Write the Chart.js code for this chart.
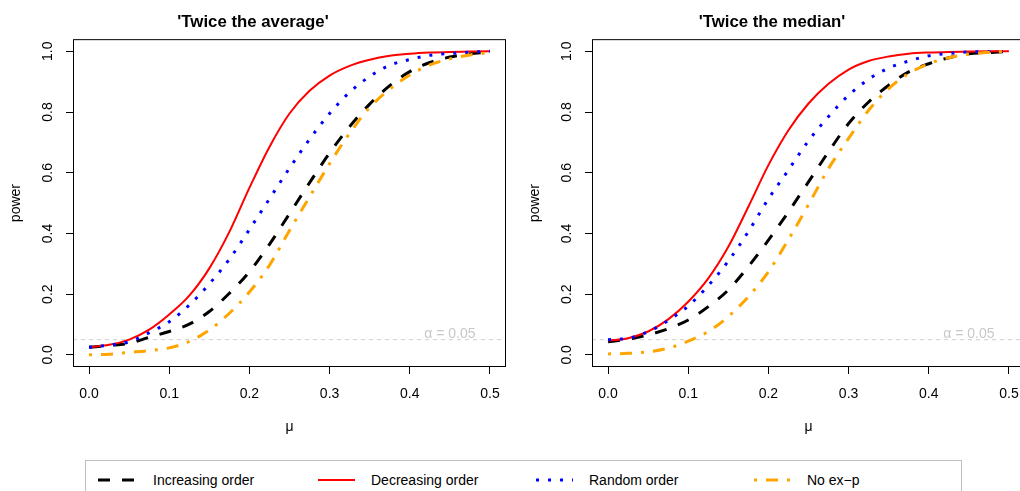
<!DOCTYPE html>
<html>
<head>
<meta charset="utf-8">
<script src="https://cdn.jsdelivr.net/npm/chart.js@4.4.1/dist/chart.umd.min.js"></script>
<style>
  html, body { margin: 0; padding: 0; background: #fff; overflow: hidden; width: 1020px; height: 491px; }
  body { position: relative; font-family: "Liberation Sans", Arial, sans-serif; }
  .chartBox { position: absolute; top: 0; }
  #legend { position: absolute; left: 85px; top: 460px; width: 877px; height: 45px; border: 1px solid #bebebe; box-sizing: border-box; }
  .lgItem { position: absolute; top: 471px; height: 18px; line-height: 18px; font-size: 14px; color: #000; white-space: nowrap; }
  .lgSample { position: absolute; top: 474px; }
</style>
</head>
<body>
<div class="chartBox" style="left:0px"><canvas id="avgChart" width="520" height="445"></canvas></div>
<div class="chartBox" style="left:519px"><canvas id="medChart" width="520" height="445"></canvas></div>
<div id="legend"></div>

<script>
// mu grid shared by all curves
const mu = [0, 0.025, 0.05, 0.075, 0.1, 0.125, 0.15, 0.175, 0.2, 0.225, 0.25,
            0.275, 0.3, 0.325, 0.35, 0.375, 0.4, 0.425, 0.45, 0.475, 0.5];

// 'Twice the average'
const avgIncreasing = [0.025, 0.031, 0.038, 0.058, 0.077, 0.101, 0.143, 0.203, 0.274, 0.364, 0.465,
                       0.567, 0.665, 0.752, 0.826, 0.887, 0.933, 0.963, 0.981, 0.992, 0.997];
const avgDecreasing = [0.025, 0.033, 0.05, 0.083, 0.133, 0.195, 0.285, 0.405, 0.55, 0.685, 0.795,
                       0.87, 0.92, 0.952, 0.972, 0.985, 0.992, 0.996, 0.998, 0.999, 1.0];
const avgRandom     = [0.025, 0.032, 0.043, 0.073, 0.109, 0.164, 0.234, 0.315, 0.413, 0.514, 0.615,
                       0.71, 0.795, 0.865, 0.917, 0.954, 0.973, 0.987, 0.993, 0.997, 1.0];
const avgNoExp      = [0.0, 0.002, 0.008, 0.014, 0.023, 0.044, 0.082, 0.137, 0.207, 0.295, 0.41,
                       0.52, 0.63, 0.73, 0.815, 0.875, 0.922, 0.955, 0.975, 0.988, 0.996];

// 'Twice the median'
const medIncreasing = [0.043, 0.052, 0.066, 0.086, 0.115, 0.159, 0.214, 0.291, 0.378, 0.471, 0.57,
                       0.669, 0.762, 0.833, 0.888, 0.932, 0.959, 0.979, 0.992, 0.996, 1.0];
const medDecreasing = [0.047, 0.055, 0.077, 0.117, 0.175, 0.252, 0.356, 0.488, 0.625, 0.74, 0.828,
                       0.893, 0.94, 0.968, 0.983, 0.992, 0.996, 0.998, 0.999, 1.0, 1.0];
const medRandom     = [0.05, 0.055, 0.076, 0.113, 0.161, 0.228, 0.309, 0.406, 0.514, 0.609, 0.705,
                       0.785, 0.855, 0.908, 0.945, 0.968, 0.985, 0.993, 0.998, 0.999, 1.0];
const medNoExp      = [0.003, 0.005, 0.01, 0.022, 0.045, 0.077, 0.126, 0.192, 0.274, 0.38, 0.495,
                       0.614, 0.713, 0.806, 0.877, 0.927, 0.959, 0.979, 0.99, 0.997, 1.0];

const alphaLevel = 0.05;
const xTickValues = [0, 0.1, 0.2, 0.3, 0.4, 0.5];
const yTickValues = [0, 0.2, 0.4, 0.6, 0.8, 1.0];

const seriesNames = ['Increasing order', 'Decreasing order', 'Random order', 'No ex\u2212p'];
const seriesStyle = [
    { color: '#000000', width: 3, dash: [12, 12] },
    { color: '#ff0000', width: 2, dash: [] },
    { color: '#0000ff', width: 3, dash: [3, 9] },
    { color: '#ffa500', width: 3, dash: [3, 9, 12, 9] }
];
// orange on top, then blue, red, black
const seriesOrder = [4, 3, 2, 1];

const FONT = '"Liberation Sans", Arial, Helvetica, sans-serif';

// box round the plot region + alpha label
const boxPlugin = {
    id: 'rbox',
    afterDraw(chart) {
        const { ctx, chartArea: a, scales } = chart;
        ctx.save();
        ctx.fillStyle = '#c8c8c8';
        ctx.font = '14px ' + FONT;
        ctx.textAlign = 'center';
        ctx.textBaseline = 'alphabetic';
        ctx.fillText('\u03b1 = 0.05', scales.x.getPixelForValue(0.45), scales.y.getPixelForValue(alphaLevel) - 2);
        ctx.strokeStyle = '#000';
        ctx.lineWidth = 1;
        ctx.strokeRect(a.left + 0.5, a.top + 0.5, a.right - a.left - 1, a.bottom - a.top - 1);
        ctx.restore();
    }
};

function makeChart(id, title, series) {
    const datasets = series.map((vals, i) => ({
        label: seriesNames[i],
        data: mu.map((m, j) => ({ x: m, y: vals[j] })),
        borderColor: seriesStyle[i].color,
        borderWidth: seriesStyle[i].width,
        borderDash: seriesStyle[i].dash,
        borderCapStyle: 'butt',
        cubicInterpolationMode: 'monotone',
        pointRadius: 0,
        fill: false,
        order: seriesOrder[i]
    }));
    datasets.push({
        label: 'alpha',
        data: [{ x: -0.02, y: alphaLevel }, { x: 0.52, y: alphaLevel }],
        borderColor: '#cfcfcf',
        borderWidth: 1,
        borderDash: [4, 4],
        pointRadius: 0,
        order: 10
    });

    return new Chart(document.getElementById(id), {
        type: 'line',
        data: { datasets: datasets },
        plugins: [boxPlugin],
        options: {
            responsive: false,
            animation: false,
            layout: { padding: { left: 0, right: 14, top: 0, bottom: 0 } },
            plugins: {
                legend: { display: false },
                tooltip: { enabled: false },
                title: {
                    display: true,
                    text: title,
                    color: '#000',
                    font: { family: FONT, size: 16.8, weight: 'bold', lineHeight: 1.2 },
                    padding: { top: 12, bottom: 7 }
                }
            },
            scales: {
                x: {
                    type: 'linear',
                    min: -0.02,
                    max: 0.52,
                    afterBuildTicks: (s) => { s.ticks = xTickValues.map(v => ({ value: v })); },
                    afterFit: (s) => { s.height = 445 - 367; },
                    grid: { drawOnChartArea: false, drawTicks: true, tickLength: 7, color: '#000' },
                    border: { display: false },
                    ticks: {
                        color: '#000',
                        font: { family: FONT, size: 14 },
                        padding: 12,
                        maxRotation: 0,
                        callback: (v) => v.toFixed(1)
                    },
                    title: {
                        display: true,
                        text: '\u03bc',
                        color: '#000',
                        font: { family: FONT, size: 14 },
                        padding: { top: 0, bottom: 9 }
                    }
                },
                y: {
                    min: -0.04,
                    max: 1.04,
                    afterBuildTicks: (s) => { s.ticks = yTickValues.map(v => ({ value: v })); },
                    afterFit: (s) => { s.width = 73; },
                    grid: { drawOnChartArea: false, drawTicks: true, tickLength: 7, color: '#000' },
                    border: { display: false },
                    ticks: {
                        color: '#000',
                        font: { family: FONT, size: 14 },
                        padding: 8,
                        minRotation: 90,
                        maxRotation: 90,
                        crossAlign: 'center',
                        callback: (v) => v.toFixed(1)
                    },
                    title: {
                        display: true,
                        text: 'power',
                        color: '#000',
                        font: { family: FONT, size: 14 },
                        padding: { top: 8, bottom: 0 }
                    }
                }
            }
        }
    });
}

makeChart('avgChart', "'Twice the average'", [avgIncreasing, avgDecreasing, avgRandom, avgNoExp]);
makeChart('medChart', "'Twice the median'", [medIncreasing, medDecreasing, medRandom, medNoExp]);

// shared legend below both panels
const sampleLeft = [98, 318, 536, 754];
const textLeft = [153, 371, 589, 807];
seriesNames.forEach((name, i) => {
    const c = document.createElement('canvas');
    c.width = 40; c.height = 12;
    c.className = 'lgSample';
    c.style.left = sampleLeft[i] + 'px';
    document.body.appendChild(c);
    const g = c.getContext('2d');
    g.strokeStyle = seriesStyle[i].color;
    g.lineWidth = seriesStyle[i].width;
    g.setLineDash(seriesStyle[i].dash);
    g.beginPath();
    g.moveTo(0, 6);
    g.lineTo(37, 6);
    g.stroke();

    const t = document.createElement('div');
    t.className = 'lgItem';
    t.style.left = textLeft[i] + 'px';
    t.textContent = name;
    document.body.appendChild(t);
});
</script>
</body>
</html>
